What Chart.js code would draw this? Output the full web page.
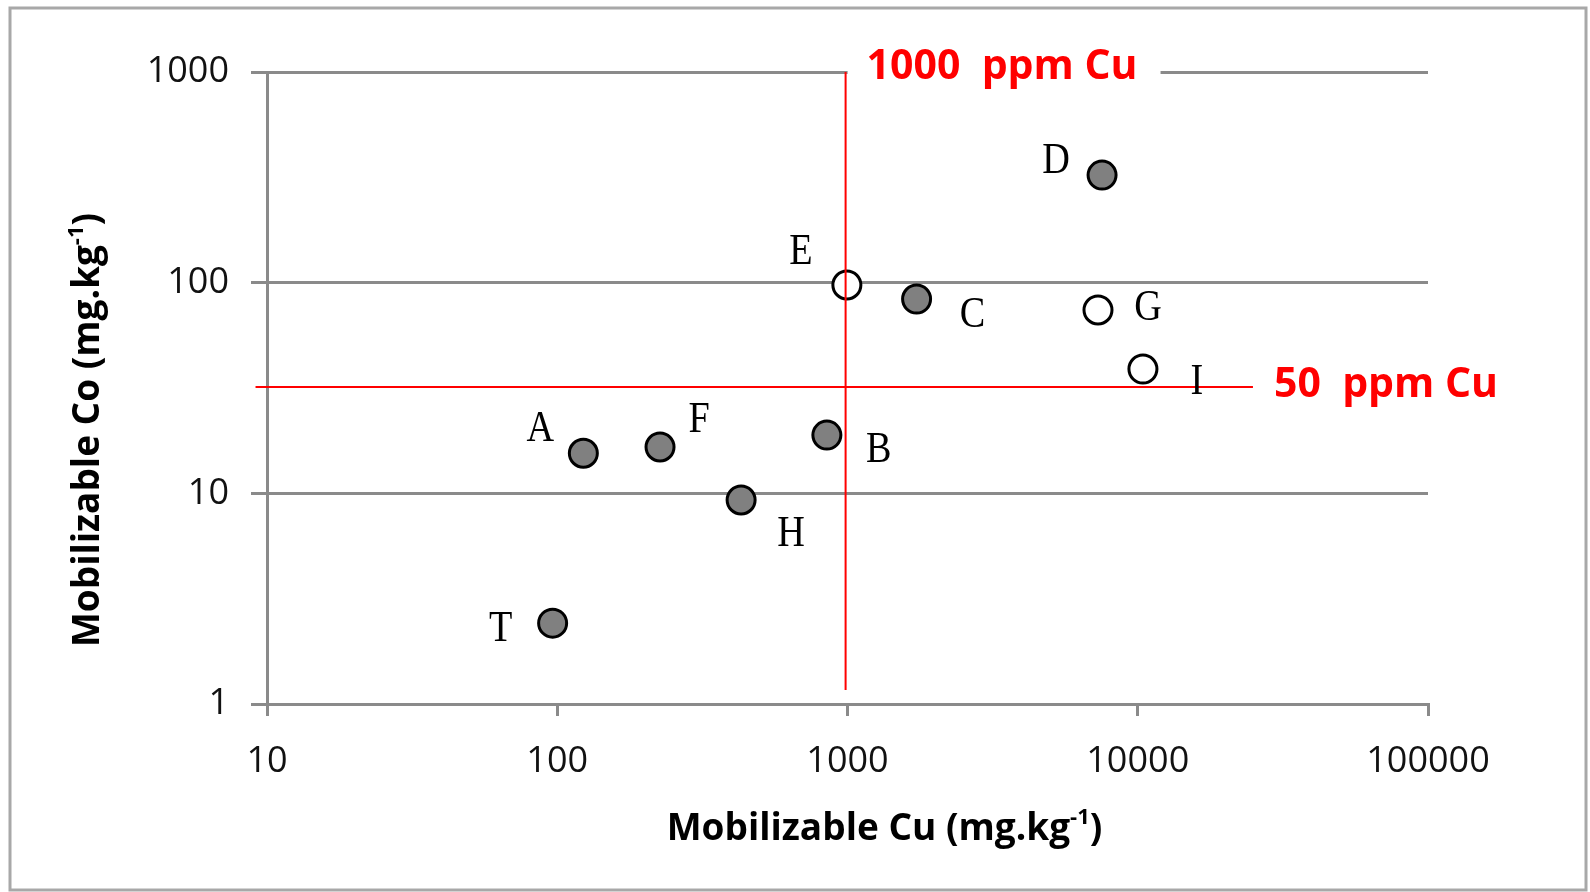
<!DOCTYPE html>
<html>
<head>
<meta charset="utf-8">
<script src="https://cdn.jsdelivr.net/npm/chart.js@4/dist/chart.umd.min.js"></script>
<style>
  html, body { margin: 0; padding: 0; background: #ffffff; }
  #wrap { width: 1590px; height: 892px; }
</style>
</head>
<body>
<div id="wrap"><canvas id="c" width="1590" height="892"></canvas></div>
<script>
// ---------- data ----------
const filledNames = ['A', 'F', 'H', 'B', 'T', 'C', 'D'];
const filledCu    = [123, 226, 430, 849, 96.4, 1730, 7535];
const filledCo    = [15.5, 16.6, 9.3, 18.9, 2.42, 83.6, 324];

const openNames = ['E', 'G', 'I'];
const openCu    = [995, 7295, 10420];
const openCo    = [97.5, 74.2, 38.9];

const xTickValues = [10, 100, 1000, 10000, 100000];
const xTickLabels = ['10', '100', '1000', '10000', '100000'];
const yTickValues = [1, 10, 100, 1000];
const yTickLabels = ['1', '10', '100', '1000'];

// threshold reference lines
const vLineCu = [985, 985];
const vLineCo = [1000, 1.165];
const hLineCu = [9.13, 24940];
const hLineCo = [32.0, 32.0];

const xTitle = ['Mobilizable Cu (mg.kg', '-1', ')'];
const yTitle = ['Mobilizable Co (mg.kg', '-1', ')'];
const vLineLabel = '1000  ppm Cu';
const hLineLabel = '50  ppm Cu';

// ---------- styling (label offsets in px from point centre) ----------
const filledLabelOffsets = [[-43, -27], [39, -30], [50, 31], [52, 12], [-52, 3], [56, 13], [-46, -17]];
const openLabelOffsets   = [[-46, -36], [50, -5], [54, 10]];

const GRID = '#8a8a8a';
const RED = '#ff0000';

function pts(xs, ys) { return xs.map((x, i) => ({ x: x, y: ys[i] })); }

const framePlugin = {
  id: 'frame',
  beforeDraw(chart) {
    const ctx = chart.ctx;
    ctx.save();
    ctx.fillStyle = '#ffffff';
    ctx.fillRect(0, 0, chart.width, chart.height);
    ctx.strokeStyle = '#a8a8a8';
    ctx.lineWidth = 3;
    ctx.strokeRect(10, 8, 1576, 882);
    ctx.restore();
  }
};

function drawSupTitle(ctx, parts, size) {
  const main = 'bold ' + size + 'px "Open Sans"';
  const sup = 'bold ' + Math.round(size * 0.6) + 'px "Open Sans"';
  ctx.font = main; const w0 = ctx.measureText(parts[0]).width;
  ctx.font = sup;  const w1 = ctx.measureText(parts[1]).width;
  ctx.font = main; const w2 = ctx.measureText(parts[2]).width;
  const total = w0 + w1 + w2;
  let x = -total / 2;
  ctx.textAlign = 'left';
  ctx.textBaseline = 'alphabetic';
  ctx.font = main; ctx.fillText(parts[0], x, 0); x += w0;
  ctx.font = sup;  ctx.fillText(parts[1], x, -size * 0.42); x += w1;
  ctx.font = main; ctx.fillText(parts[2], x, 0);
}

const annotPlugin = {
  id: 'annot',
  afterDraw(chart) {
    const ctx = chart.ctx;
    const xs = chart.scales.x, ys = chart.scales.y;
    ctx.save();
    // axis titles
    ctx.fillStyle = '#000000';
    ctx.save();
    ctx.translate((xs.left + xs.right) / 2 + 37, 840);
    drawSupTitle(ctx, xTitle, 37);
    ctx.restore();
    ctx.save();
    ctx.translate(99, (ys.top + ys.bottom) / 2 + 42);
    ctx.rotate(-Math.PI / 2);
    drawSupTitle(ctx, yTitle, 37);
    ctx.restore();

    // threshold labels
    ctx.font = 'bold 41px "Open Sans"';
    ctx.textAlign = 'left';
    ctx.textBaseline = 'alphabetic';
    const vx = xs.getPixelForValue(vLineCu[0]);
    const vy = ys.getPixelForValue(vLineCo[0]);
    const w1 = ctx.measureText(vLineLabel).width;
    ctx.fillStyle = '#ffffff';
    ctx.fillRect(vx + 2, vy - 4, w1 + 42, 8);
    ctx.fillStyle = RED;
    ctx.fillText(vLineLabel, vx + 21, vy + 7);
    const hx = xs.getPixelForValue(hLineCu[1]);
    const hy = ys.getPixelForValue(hLineCo[1]);
    ctx.fillText(hLineLabel, hx + 21, hy + 10);

    // point labels
    const size = 45;
    ctx.font = size + 'px "Liberation Serif"';
    ctx.fillStyle = '#000000';
    ctx.textAlign = 'center';
    const drawLabels = (dsIndex, names, offs) => {
      const meta = chart.getDatasetMeta(dsIndex);
      meta.data.forEach((el, i) => {
        ctx.save();
        ctx.translate(el.x + offs[i][0], el.y + offs[i][1] + size * 0.331);
        ctx.scale(0.85, 1);
        ctx.fillText(names[i], 0, 0);
        ctx.restore();
      });
    };
    drawLabels(2, filledNames, filledLabelOffsets);
    drawLabels(3, openNames, openLabelOffsets);
    ctx.restore();
  }
};

const tickFont = { family: '"Open Sans"', size: 36 };

new Chart(document.getElementById('c'), {
  type: 'scatter',
  data: {
    datasets: [
      { label: '1000 ppm', data: pts(vLineCu, vLineCo), showLine: true, borderColor: RED, borderWidth: 2,
        pointRadius: 0, clip: false, order: 0 },
      { label: '50 ppm', data: pts(hLineCu, hLineCo), showLine: true, borderColor: RED, borderWidth: 2,
        pointRadius: 0, clip: false, order: 0 },
      { label: 'filled', data: pts(filledCu, filledCo), backgroundColor: '#808080', borderColor: '#000000',
        borderWidth: 3, pointRadius: 14, pointHoverRadius: 14, clip: false, order: 1 },
      { label: 'open', data: pts(openCu, openCo), backgroundColor: '#ffffff', borderColor: '#000000',
        borderWidth: 3, pointRadius: 14, pointHoverRadius: 14, clip: false, order: 1 }
    ]
  },
  options: {
    responsive: false,
    animation: false,
    devicePixelRatio: 1,
    layout: { padding: { left: 0, top: 72, right: 162, bottom: 0 } },
    plugins: { legend: { display: false }, tooltip: { enabled: false } },
    scales: {
      x: {
        type: 'logarithmic', min: 10, max: 100000,
        afterBuildTicks(scale) { scale.ticks = xTickValues.map(v => ({ value: v })); },
        afterFit(scale) { scale.height = 188; },
        ticks: { font: tickFont, color: '#111111', padding: 24, maxRotation: 0, autoSkip: false,
                 callback: (v, i) => xTickLabels[i] },
        grid: { drawOnChartArea: false, drawTicks: true, tickLength: 12, color: GRID, lineWidth: 3 },
        border: { color: GRID, width: 3 }
      },
      y: {
        type: 'logarithmic', min: 1, max: 1000,
        afterBuildTicks(scale) { scale.ticks = yTickValues.map(v => ({ value: v })); },
        afterFit(scale) { scale.width = 267; },
        ticks: { font: tickFont, color: '#111111', padding: 22, autoSkip: false,
                 callback: (v, i) => yTickLabels[i] },
        grid: { drawOnChartArea: true, drawTicks: true, tickLength: 16, color: GRID, lineWidth: 3 },
        border: { color: GRID, width: 3 }
      }
    }
  },
  plugins: [framePlugin, annotPlugin]
});
</script>
</body>
</html>
